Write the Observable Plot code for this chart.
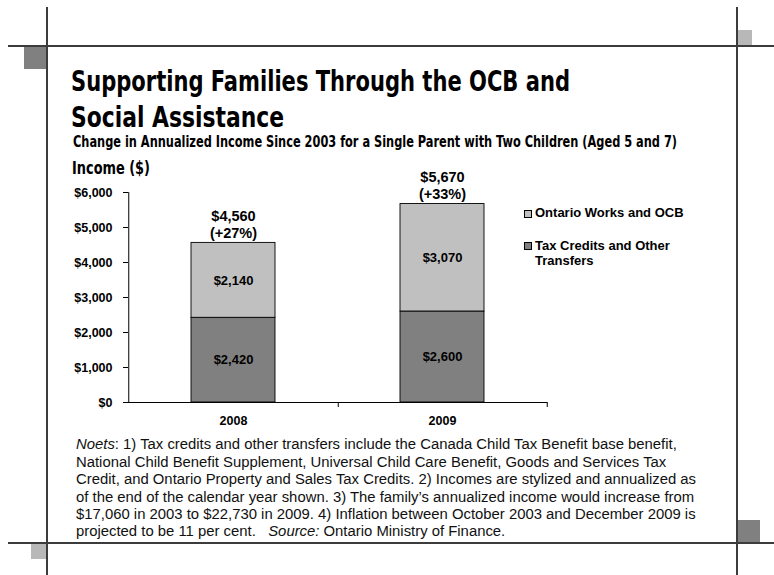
<!DOCTYPE html>
<html><head><meta charset="utf-8">
<script src="https://cdn.jsdelivr.net/npm/d3@7"></script>
<script src="https://cdn.jsdelivr.net/npm/@observablehq/plot@0.6"></script>
<style>
html,body{margin:0;padding:0;background:#fff;}
#page{position:relative;width:774px;height:575px;overflow:hidden;background:#fff;font-family:"Liberation Sans",Arial,sans-serif;color:#000;}
.abs{position:absolute;white-space:nowrap;line-height:1;}
.cond{font-family:"Liberation Sans Narrow","Arial Narrow","DejaVu Sans Condensed",sans-serif;font-weight:bold;font-stretch:condensed;}
.ln{position:absolute;background:#3c3c3c;}
.sq{position:absolute;}
.sw{position:absolute;width:6px;height:6px;border:1px solid #000;}
.lg{position:absolute;white-space:nowrap;font-weight:bold;font-size:13px;}
#chart{position:absolute;left:0;top:155px;}
</style></head><body><div id="page"></div>
<script>
// ---- data ----
const years = ["2008", "2009"];
const seriesNames = ["Tax Credits and Other Transfers", "Ontario Works and OCB"];
const taxCredits = [2420, 2600];
const ontarioWorks = [2140, 3070];
const totals = [4560, 5670];
const pctIncrease = [27, 33];
const yTicks = [0, 1000, 2000, 3000, 4000, 5000, 6000];
const seriesColors = ["#808080", "#c0c0c0"];
const titleLines = ["Supporting Families Through the OCB and", "Social Assistance"];
const subtitle = "Change in Annualized Income Since 2003 for a Single Parent with Two Children (Aged 5 and 7)";
const yLabel = "Income ($)";
const legendLines = [["Ontario Works and OCB"], ["Tax Credits and Other", "Transfers"]];
const noteLines = [
  "<i>Noets</i>: 1) Tax credits and other transfers include the Canada Child Tax Benefit base benefit,",
  "National Child Benefit Supplement, Universal Child Care Benefit, Goods and Services Tax",
  "Credit, and Ontario Property and Sales Tax Credits. 2) Incomes are stylized and annualized as",
  "of the end of the calendar year shown. 3) The family\u2019s annualized income would increase from",
  "$17,060 in 2003 to $22,730 in 2009. 4) Inflation between October 2003 and December 2009 is",
  "projected to be 11 per cent.&nbsp;&nbsp; <i>Source:</i> Ontario Ministry of Finance."
];

const page = document.getElementById("page");
function add(cls, css, html) {
  const d = document.createElement("div");
  d.className = cls;
  Object.assign(d.style, css);
  if (html !== undefined) d.innerHTML = html;
  page.appendChild(d);
  return d;
}
function fitX(el, target) {
  const w = el.getBoundingClientRect().width;
  el.style.transformOrigin = "0 0";
  el.style.transform = `scaleX(${target / w})`;
}

// ---- decorative frame ----
add("ln", {left: "45.5px", top: "7px", width: "2px", height: "568px"});
add("ln", {left: "736px", top: "7px", width: "2px", height: "568px"});
add("ln", {left: "8px", top: "44.5px", width: "766px", height: "2px"});
add("ln", {left: "8px", top: "542px", width: "766px", height: "2px"});
add("sq", {left: "24px", top: "46.5px", width: "21.5px", height: "22px", background: "#808080"});
add("sq", {left: "738px", top: "30px", width: "14px", height: "14.5px", background: "#b8b8b8"});
add("sq", {left: "738px", top: "520px", width: "22px", height: "22px", background: "#808080"});
add("sq", {left: "31px", top: "544px", width: "14.5px", height: "15px", background: "#b8b8b8"});

// ---- titles ----
const base = (b, fs) => (b - 0.846 * fs) + "px";
const t1 = add("abs cond", {left: "71px", top: base(92, 29), fontSize: "29px"}, titleLines[0]);
const t2 = add("abs cond", {left: "71px", top: base(128, 29), fontSize: "29px"}, titleLines[1]);
const st = add("abs cond", {left: "73px", top: base(148, 15), fontSize: "15px"}, subtitle);
const yl = add("abs cond", {left: "72px", top: base(175, 17.5), fontSize: "17.5px"}, yLabel);
fitX(t1, 499); fitX(t2, 213); fitX(st, 604); fitX(yl, 78);

// ---- notes ----
const notes = noteLines.map((h, i) => add("abs", {left: "76px", fontSize: "14px", color: "#111"}, h));
const w0 = notes[0].getBoundingClientRect().width;
const nfs = 14 * 601 / w0;
notes.forEach((n, i) => { n.style.fontSize = nfs + "px"; n.style.top = base(450 + 17.4 * i, nfs); });

// ---- legend ----
add("sw", {left: "524px", top: "210px", background: seriesColors[1]});
add("lg", {left: "535px", top: base(217, 13), lineHeight: "1"}, legendLines[0].join("<br>"));
add("sw", {left: "524px", top: "242px", background: seriesColors[0]});
add("lg", {left: "535px", top: (250 - 7.5 - 0.3465 * 13) + "px", lineHeight: "15px"}, legendLines[1].join("<br>"));

// ---- chart ----
const rows = [];
years.forEach((yr, i) => {
  rows.push({year: yr, series: seriesNames[0], value: taxCredits[i]});
  rows.push({year: yr, series: seriesNames[1], value: ontarioWorks[i]});
});
const totalRows = years.map((yr, i) => ({year: yr, total: totals[i], pct: pctIncrease[i]}));
const fmt = d3.format("$,");
const W = 774, H = 275, mL = 128, mR = 227, mT = 37, mB = 28;
const pIn = 0.6, pOut = 0.3;
const step = (W - mL - mR) / (years.length - pIn + 2 * pOut);

const chart = Plot.plot({
  width: W, height: H,
  marginLeft: mL, marginRight: mR, marginTop: mT, marginBottom: mB,
  style: {fontFamily: "Liberation Sans, Arial, sans-serif", background: "transparent", color: "#000"},
  x: {domain: years, paddingInner: pIn, paddingOuter: pOut, label: null},
  y: {domain: [0, 6000], label: null},
  color: {domain: seriesNames, range: seriesColors},
  marks: [
    Plot.barY(rows, {x: "year", y: "value", fill: "series", stroke: "#000", strokeWidth: 0.9}),
    Plot.ruleY([0], {stroke: "#000"}),
    Plot.ruleX([years[0]], {y1: 0, y2: 6000, dx: -step / 2, stroke: "#000"}),
    Plot.axisY({ticks: yTicks, tickFormat: fmt, tickSize: 5, tickPadding: 11, fontSize: 12.5, fontWeight: "bold"}),
    Plot.axisX({tickSize: 0, tickPadding: 14, fontSize: 12.5, fontWeight: "bold"}),
    Plot.axisX({tickSize: 5, tickFormat: () => "", dx: step / 2}),
    Plot.text(rows, Plot.stackY({x: "year", y: "value", text: d => fmt(d.value), fontSize: 13, fontWeight: "bold"})),
    Plot.text(totalRows, {x: "year", y: "total", text: d => `${fmt(d.total)}\n(+${d.pct}%)`, lineAnchor: "bottom", dy: -5, fontSize: 14.5, fontWeight: "bold", lineHeight: 1.2})
  ]
});
chart.id = "chart";
page.appendChild(chart);
</script>
</body></html>
